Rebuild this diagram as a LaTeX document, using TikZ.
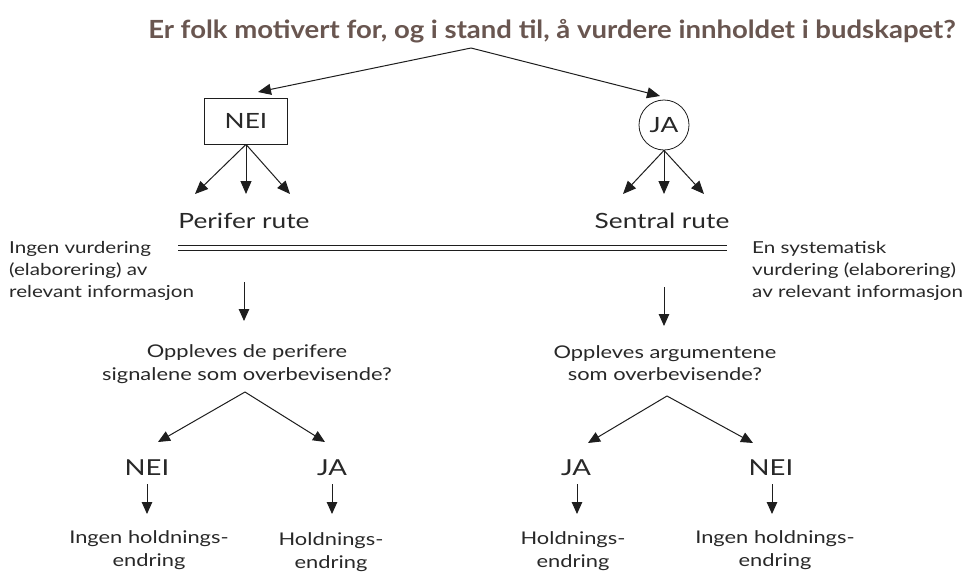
\documentclass[tikz,border=0pt]{standalone}
\usepackage{fontspec}
\setmainfont{Lato}
\newfontfamily\bodyfont[FakeStretch=1.25]{Lato}
\newfontfamily\headfont[FakeStretch=1.1]{Lato}
\usetikzlibrary{arrows.meta,calc}
\definecolor{titlecol}{RGB}{105,86,80}
\definecolor{txt}{RGB}{40,40,40}
\definecolor{ln}{RGB}{30,30,30}
\tikzset{
  titletext/.style={font=\headfont\fontsize{25}{30}\selectfont\bfseries, text=titlecol, inner sep=0pt},
  bodytext/.style={font=\bodyfont\fontsize{17.5}{22.5}\selectfont, text=txt, align=center, inner sep=0pt},
  sidetext/.style={font=\bodyfont\fontsize{16.5}{22}\selectfont, text=txt, align=left, inner sep=0pt},
  routetext/.style={font=\bodyfont\fontsize{21}{26}\selectfont, text=txt, inner sep=0pt},
  answer/.style={font=\bodyfont\fontsize{22}{26}\selectfont, text=txt, inner sep=0pt},
  bigarrow/.style={draw=ln, line width=1pt, -{Triangle[length=13pt,width=11pt]}},
  smallarrow/.style={draw=ln, line width=1pt, -{Triangle[length=12pt,width=10.5pt]}},
  neibox/.style={draw=ln, line width=0.8pt, minimum width=83pt, minimum height=46pt, inner sep=0pt, font=\bodyfont\fontsize{21}{26}\selectfont, text=txt},
  jacircle/.style={draw=ln, line width=0.8pt, circle, minimum size=50pt, inner sep=0pt, font=\bodyfont\fontsize{21}{26}\selectfont, text=txt},
}
\begin{document}
\begin{tikzpicture}[x=1pt,y=-1pt]
\useasboundingbox (0,0) rectangle (968,571);
\fill[white] (0,0) rectangle (968,571);

% title
\node[titletext] (title) at (552,31) {Er folk motivert for, og i stand til, å vurdere innholdet i budskapet?};
\coordinate (apex) at (471,48);

% first decision
\node[neibox] (nei) at (246,121) {NEI};
\node[jacircle] (ja) at (664,125) {JA};
\coordinate (neiin) at (258,92);
\coordinate (jain) at (660,96);
\draw[bigarrow] (apex) -- (neiin);
\draw[bigarrow] (apex) -- (jain);

% three arrows
\coordinate (n1) at (195,194);
\coordinate (n2) at (246,194);
\coordinate (n3) at (290,194);
\coordinate (j1) at (623,194);
\coordinate (j2) at (664,194);
\coordinate (j3) at (704,194);
\foreach \t in {n1,n2,n3} \draw[bigarrow] (nei.south) -- (\t);
\foreach \t in {j1,j2,j3} \draw[bigarrow] (ja.south) -- (\t);

% routes
\node[routetext] (prute) at (244,221) {Perifer rute};
\node[routetext] (srute) at (662,221) {Sentral rute};
\coordinate (dlL) at (178,248);
\coordinate (dlR) at (727,248);
\draw[draw=ln, line width=0.8pt, double=white, double distance=4.5pt] (dlL) -- (dlR);

\node[sidetext, anchor=west] (lside) at (9,271) {Ingen vurdering\\(elaborering) av\\relevant informasjon};
\node[sidetext, anchor=west] (rside) at (752,271) {En systematisk\\vurdering (elaborering)\\av relevant informasjon};

% down arrows
\coordinate (pd1) at (244,282);
\coordinate (pd2) at (244,321);
\coordinate (sd1) at (664,287);
\coordinate (sd2) at (664,326);
\draw[smallarrow] (pd1) -- (pd2);
\draw[smallarrow] (sd1) -- (sd2);

% questions
\node[bodytext] (q1) at (247,364) {Oppleves de perifere\\signalene som overbevisende?};
\node[bodytext] (q2) at (665,363) {Oppleves argumentene\\som overbevisende?};

% branches left
\coordinate (la) at (245,392);
\coordinate (lt1) at (158,442);
\coordinate (lt2) at (325,442);
\draw[smallarrow] (la) -- (lt1);
\draw[smallarrow] (la) -- (lt2);
% branches right
\coordinate (ra) at (667,396);
\coordinate (rt1) at (588,443);
\coordinate (rt2) at (753,443);
\draw[smallarrow] (ra) -- (rt1);
\draw[smallarrow] (ra) -- (rt2);

% answers
\node[answer] (a1) at (147,468) {NEI};
\node[answer] (a2) at (332,468) {JA};
\node[answer] (a3) at (576,468) {JA};
\node[answer] (a4) at (771,468) {NEI};

\foreach \a/\x in {a1/147,a2/332,a3/577,a4/772}{
  \draw[smallarrow] (\x,484) -- (\x,514);
}

% outcomes
\node[bodytext] (o1) at (149,550) {Ingen holdnings-\\endring};
\node[bodytext] (o2) at (331,552) {Holdnings-\\endring};
\node[bodytext] (o3) at (573,551) {Holdnings-\\endring};
\node[bodytext] (o4) at (775,550) {Ingen holdnings-\\endring};
\end{tikzpicture}
\end{document}
